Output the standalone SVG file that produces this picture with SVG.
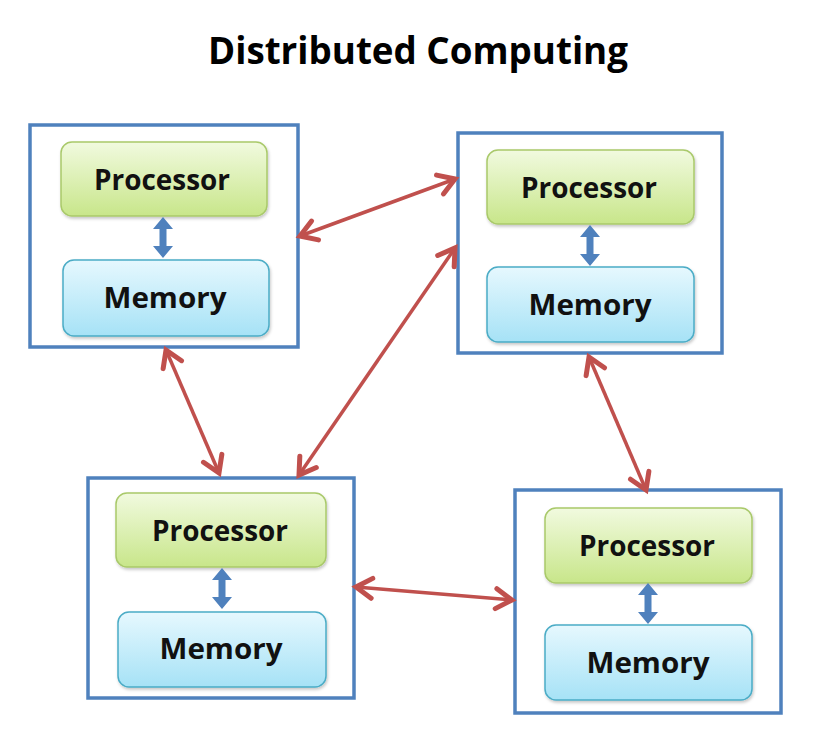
<svg xmlns="http://www.w3.org/2000/svg" width="816" height="738" viewBox="0 0 816 738">
<defs>
<linearGradient id="gProc" x1="0" y1="0" x2="0" y2="1">
<stop offset="0" stop-color="#f1fadf"/>
<stop offset="1" stop-color="#c8e68a"/>
</linearGradient>
<linearGradient id="gMem" x1="0" y1="0" x2="0" y2="1">
<stop offset="0" stop-color="#e6f8fe"/>
<stop offset="1" stop-color="#a6e2f6"/>
</linearGradient>
<filter id="sh" x="-10%" y="-10%" width="120%" height="130%">
<feDropShadow dx="1" dy="2" stdDeviation="1.5" flood-color="#000" flood-opacity="0.22"/>
</filter>
<marker id="rh" markerUnits="userSpaceOnUse" markerWidth="26" markerHeight="26" viewBox="0 0 26 26" refX="21" refY="13" orient="auto-start-reverse">
<path d="M5,3 L21,13 L5,23" fill="none" stroke="#c0504d" stroke-width="5" stroke-linejoin="miter" stroke-linecap="round"/>
</marker>
<path id="ba" d="M0,0 L10,12 L3.5,12 L3.5,29 L10,29 L0,41 L-10,29 L-3.5,29 L-3.5,12 L-10,12 Z" fill="#4f81bd"/>
</defs>
<style>
.outer{fill:#fff;stroke:#4f81bd;stroke-width:3.5}
.proc{fill:url(#gProc);stroke:#a9c96a;stroke-width:1.5;filter:url(#sh)}
.mem{fill:url(#gMem);stroke:#4bacc6;stroke-width:1.5;filter:url(#sh)}
.lbl{font-family:"Open Sans","Noto Sans","Liberation Sans",sans-serif;font-weight:bold;font-size:28px;fill:#111;text-anchor:middle}
.title{font-family:"Open Sans","Noto Sans","Liberation Sans",sans-serif;font-weight:bold;font-size:37px;fill:#000;text-anchor:middle}
.red{fill:none;stroke:#c0504d;stroke-width:3.5;marker-start:url(#rh);marker-end:url(#rh)}
</style>
<rect width="816" height="738" fill="#fff"/>
<text class="title" x="418" y="64" textLength="420" lengthAdjust="spacingAndGlyphs">Distributed Computing</text>

<g id="node1">
<rect class="outer" x="30" y="125" width="268" height="222"/>
<rect class="proc" x="61" y="142" width="206" height="74" rx="11"/>
<text class="lbl" x="162" y="190" textLength="136" lengthAdjust="spacingAndGlyphs">Processor</text>
<use href="#ba" x="163" y="217"/>
<rect class="mem" x="63" y="260" width="206" height="76" rx="11"/>
<text class="lbl" x="165" y="308" textLength="123" lengthAdjust="spacingAndGlyphs">Memory</text>
</g>

<g id="node2">
<rect class="outer" x="458" y="133" width="264" height="220"/>
<rect class="proc" x="487" y="150" width="207" height="74" rx="11"/>
<text class="lbl" x="589" y="198" textLength="136" lengthAdjust="spacingAndGlyphs">Processor</text>
<use href="#ba" x="590" y="225"/>
<rect class="mem" x="487" y="267" width="207" height="75" rx="11"/>
<text class="lbl" x="590" y="315" textLength="123" lengthAdjust="spacingAndGlyphs">Memory</text>
</g>

<g id="node3">
<rect class="outer" x="88" y="478" width="266" height="220"/>
<rect class="proc" x="116" y="493" width="210" height="74" rx="11"/>
<text class="lbl" x="220" y="541" textLength="136" lengthAdjust="spacingAndGlyphs">Processor</text>
<use href="#ba" x="222" y="568"/>
<rect class="mem" x="118" y="612" width="208" height="75" rx="11"/>
<text class="lbl" x="221" y="659" textLength="123" lengthAdjust="spacingAndGlyphs">Memory</text>
</g>

<g id="node4">
<rect class="outer" x="515" y="490" width="266" height="223"/>
<rect class="proc" x="545" y="508" width="207" height="75" rx="11"/>
<text class="lbl" x="647" y="556" textLength="136" lengthAdjust="spacingAndGlyphs">Processor</text>
<use href="#ba" x="648" y="583"/>
<rect class="mem" x="545" y="625" width="207" height="75" rx="11"/>
<text class="lbl" x="648" y="673" textLength="123" lengthAdjust="spacingAndGlyphs">Memory</text>
</g>

<g id="connectors">
<line class="red" x1="300" y1="236" x2="455" y2="179"/>
<line class="red" x1="299" y1="475" x2="455" y2="248"/>
<line class="red" x1="166" y1="350" x2="219" y2="473"/>
<line class="red" x1="589" y1="357" x2="646" y2="490"/>
<line class="red" x1="356" y1="587" x2="512" y2="600"/>
</g>
</svg>
